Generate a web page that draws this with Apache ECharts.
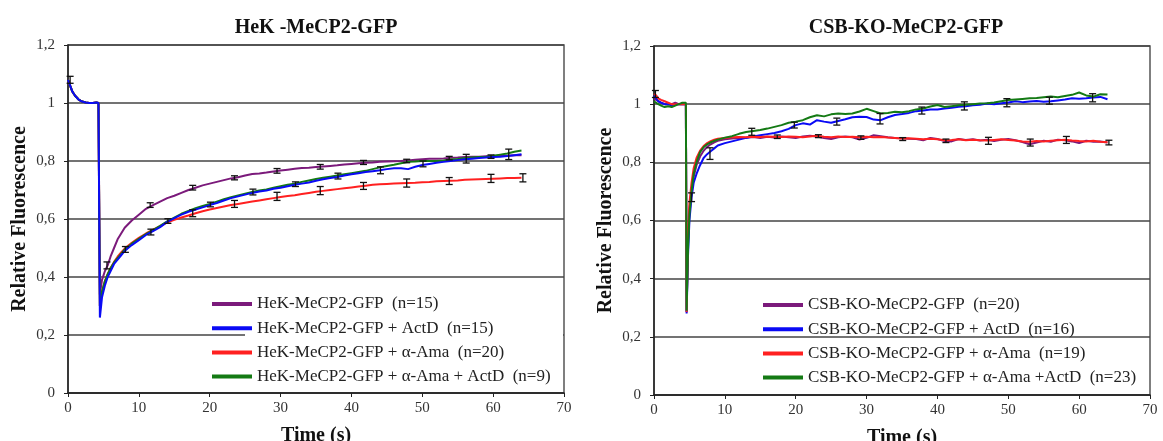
<!DOCTYPE html>
<html><head><meta charset="utf-8">
<script src="https://cdn.jsdelivr.net/npm/echarts@6/dist/echarts.min.js"></script>
<style>html,body{margin:0;padding:0;background:#fff}#c{width:1163px;height:441px}</style>
</head><body><div id="c"></div>
<script>
// ---------- data ----------
const titles = ['HeK -MeCP2-GFP', 'CSB-KO-MeCP2-GFP'];
const xName = 'Time (s)';
const yName = 'Relative Fluorescence';
const colors = ['#7B1A7B', '#0A0AF5', '#FF2020', '#147A14'];

const namesL = ['HeK-MeCP2-GFP  (n=15)', 'HeK-MeCP2-GFP + ActD  (n=15)', 'HeK-MeCP2-GFP + \u03B1-Ama  (n=20)', 'HeK-MeCP2-GFP + \u03B1-Ama + ActD  (n=9)'];
const namesR = ['CSB-KO-MeCP2-GFP  (n=20)', 'CSB-KO-MeCP2-GFP + ActD  (n=16)', 'CSB-KO-MeCP2-GFP + \u03B1-Ama  (n=19)', 'CSB-KO-MeCP2-GFP + \u03B1-Ama +ActD  (n=23)'];

const timeL = [0,0.3,0.6,1,1.5,2,2.5,3,3.5,4,4.3,4.5,4.8,5.2,5.6,6,6.5,7,7.5,8,
  9,10,11,12,13,14,15,16,17,18,19,20,21,22,23,24,25,26,27,28,29,30,31,32,33,34,35,36,37,38,
  39,40,41,42,43,44,45,46,47,48,49,50,51,52,53,54,55,56,57,58,59,60,61,62,63,64];

const hekGFP = [1.08,1.06,1.04,1.025,1.012,1.005,1.002,1.0,1.0,1.002,1.0,
  0.34,0.39,0.42,0.44,0.47,0.50,0.53,0.55,0.57,
  0.595,0.615,0.635,0.648,0.66,0.672,0.68,0.69,0.70,0.708,
  0.716,0.722,0.728,0.734,0.740,0.744,0.75,0.755,0.757,0.760,
  0.764,0.767,0.770,0.773,0.776,0.777,0.779,0.781,0.783,0.785,
  0.788,0.790,0.792,0.794,0.795,0.797,0.798,0.799,0.800,0.802,
  0.804,0.806,0.808,0.808,0.809,0.811,0.812,0.814,0.815,0.815,
  0.816,0.817,0.818,0.818,0.82,0.82];
const hekActD = [1.08,1.06,1.04,1.025,1.012,1.005,1.002,1.0,1.0,1.002,1.0,
  0.26,0.33,0.37,0.40,0.42,0.445,0.46,0.475,0.49,
  0.51,0.527,0.545,0.558,0.572,0.59,0.603,0.615,0.625,0.633,
  0.64,0.648,0.655,0.664,0.672,0.678,0.684,0.69,0.695,0.698,
  0.704,0.708,0.713,0.718,0.722,0.726,0.732,0.737,0.741,0.745,
  0.750,0.754,0.758,0.762,0.765,0.768,0.772,0.775,0.775,0.772,
  0.78,0.786,0.79,0.794,0.797,0.80,0.803,0.806,0.808,0.81,
  0.812,0.814,0.815,0.817,0.82,0.823];
const hekAma = [1.08,1.06,1.04,1.025,1.012,1.005,1.002,1.0,1.0,1.002,1.0,
  0.30,0.35,0.385,0.41,0.43,0.452,0.47,0.485,0.498,
  0.518,0.535,0.55,0.563,0.575,0.588,0.597,0.605,0.612,0.62,
  0.627,0.633,0.638,0.643,0.648,0.652,0.656,0.66,0.664,0.668,
  0.672,0.676,0.679,0.682,0.686,0.69,0.694,0.697,0.70,0.703,
  0.706,0.709,0.712,0.715,0.718,0.72,0.721,0.722,0.723,0.724,
  0.725,0.727,0.728,0.73,0.731,0.732,0.733,0.735,0.736,0.737,
  0.738,0.739,0.74,0.741,0.741,0.742];
const hekAmaActD = [1.08,1.06,1.04,1.025,1.012,1.005,1.002,1.0,1.0,1.002,1.0,
  0.30,0.35,0.385,0.41,0.43,0.45,0.465,0.48,0.495,
  0.515,0.532,0.548,0.562,0.576,0.592,0.605,0.618,0.628,0.637,
  0.645,0.652,0.66,0.668,0.675,0.681,0.687,0.693,0.698,0.702,
  0.708,0.713,0.718,0.722,0.728,0.733,0.738,0.742,0.746,0.75,
  0.754,0.758,0.762,0.766,0.772,0.778,0.783,0.787,0.792,0.797,
  0.798,0.80,0.80,0.80,0.802,0.805,0.807,0.81,0.812,0.814,
  0.815,0.818,0.822,0.826,0.832,0.836];

const timeR = [0,0.3,0.6,1,1.5,2,2.5,3,3.5,4,4.5,4.6,4.8,5,5.3,5.6,6,6.5,7,7.5,8,8.5,9,
  10,11,12,13,14,15,16,17,18,19,20,21,22,23,24,25,26,27,28,29,30,31,32,33,34,35,36,37,38,39,
  40,41,42,43,44,45,46,47,48,49,50,51,52,53,54,55,56,57,58,59,60,61,62,63,64];

const csbGFP = [1.02,1.015,1.01,1.005,1.0,1.0,1.0,1.005,1.0,1.0,1.0,
  0.285,0.52,0.64,0.70,0.75,0.79,0.82,0.84,0.853,0.862,0.869,0.874,
  0.879,0.882,0.884,0.885,0.887,0.884,0.888,0.885,0.889,0.886,
  0.884,0.889,0.891,0.889,0.884,0.88,0.886,0.889,0.886,0.878,
  0.884,0.893,0.89,0.886,0.884,0.883,0.881,0.88,0.876,0.884,
  0.88,0.873,0.872,0.88,0.877,0.879,0.875,0.878,0.873,0.878,
  0.88,0.876,0.87,0.862,0.868,0.874,0.871,0.878,0.876,0.872,
  0.866,0.874,0.871,0.872,0.868];
const csbActD = [1.03,1.02,1.01,1.005,1.0,1.0,0.995,1.0,1.0,1.0,1.0,
  0.28,0.48,0.60,0.68,0.73,0.76,0.79,0.815,0.828,0.838,0.848,0.858,
  0.866,0.872,0.878,0.884,0.889,0.893,0.897,0.901,0.907,0.915,
  0.928,0.934,0.93,0.945,0.94,0.936,0.942,0.948,0.955,0.957,
  0.956,0.947,0.945,0.955,0.963,0.966,0.97,0.976,0.978,0.982,
  0.982,0.985,0.988,0.991,0.993,0.996,0.998,1.002,1.0,1.003,
  1.006,1.01,1.007,1.009,1.011,1.008,1.01,1.013,1.016,1.02,
  1.019,1.02,1.023,1.025,1.017];
const csbAma = [1.035,1.03,1.02,1.015,1.01,1.005,1.0,1.0,1.0,1.0,1.0,
  0.285,0.55,0.66,0.73,0.78,0.815,0.84,0.856,0.866,0.873,0.878,0.881,
  0.884,0.886,0.887,0.886,0.888,0.887,0.889,0.888,0.887,0.889,
  0.888,0.886,0.889,0.891,0.888,0.886,0.889,0.887,0.888,0.886,
  0.888,0.886,0.887,0.885,0.884,0.882,0.883,0.881,0.879,0.881,
  0.879,0.876,0.877,0.879,0.876,0.878,0.876,0.875,0.877,0.879,
  0.877,0.875,0.872,0.871,0.873,0.872,0.874,0.876,0.878,0.875,
  0.873,0.872,0.874,0.871,0.869];
const csbAmaActD = [1.01,1.005,1.0,0.995,0.99,0.993,0.99,0.995,1.0,1.005,1.005,
  0.29,0.50,0.62,0.70,0.76,0.80,0.835,0.852,0.862,0.869,0.874,0.878,
  0.885,0.89,0.898,0.904,0.908,0.911,0.916,0.922,0.928,0.936,
  0.94,0.945,0.955,0.962,0.958,0.965,0.968,0.966,0.968,0.975,
  0.984,0.976,0.968,0.97,0.974,0.972,0.976,0.982,0.985,0.992,
  0.997,0.99,0.993,0.996,0.998,1.0,1.002,1.003,1.006,1.01,
  1.014,1.016,1.018,1.02,1.021,1.024,1.026,1.024,1.028,1.032,
  1.04,1.03,1.026,1.034,1.033];

// error bars: [time, mean, half-length]
const errL = [[0.3,1.08,0.012],
  [5.5,0.44,0.012],[11.6,0.648,0.008],[17.6,0.708,0.008],[23.5,0.742,0.007],[29.5,0.766,0.008],[35.6,0.780,0.008],[41.7,0.795,0.007],[47.8,0.80,0.006],[53.8,0.81,0.006],[59.7,0.815,0.006],
  [8.1,0.495,0.01],[11.7,0.555,0.01],[14.1,0.593,0.008],[20.1,0.65,0.008],[26.1,0.693,0.01],[32.1,0.72,0.008],[38.1,0.748,0.01],[44.1,0.768,0.012],[50.1,0.79,0.01],[56.2,0.808,0.015],[62.2,0.823,0.018],
  [17.6,0.62,0.012],[23.5,0.652,0.012],[29.5,0.678,0.014],[35.6,0.698,0.014],[41.7,0.714,0.012],[47.8,0.724,0.014],[53.8,0.731,0.012],[59.7,0.74,0.014],[64.2,0.742,0.014]];
const errR = [[0.2,1.035,0.012],[5.3,0.68,0.015],[7.9,0.83,0.02],[13.8,0.905,0.012],[17.4,0.888,0.006],[19.8,0.928,0.01],
  [23.2,0.89,0.005],[25.8,0.94,0.012],[29.2,0.885,0.006],[31.9,0.95,0.018],[35.1,0.88,0.005],[37.8,0.978,0.012],
  [41.2,0.874,0.006],[43.8,0.994,0.014],[47.2,0.874,0.012],[49.8,1.005,0.014],[53.1,0.868,0.012],[55.8,1.012,0.012],
  [58.2,0.877,0.012],[61.9,1.022,0.014],[64.2,0.868,0.008]];

const xTicks = {min: 0, max: 70, interval: 10};
const yTicks = {min: 0, max: 1.2, interval: 0.2};

// ---------- chart ----------
const FONT = 'Liberation Serif, Times New Roman, serif';
const chart = echarts.init(document.getElementById('c'), null, {renderer: 'canvas'});
const pair = (t, v) => t.map((x, i) => [x, v[i]]);
const yFmt = v => { const s = (+v).toFixed(1); return s.endsWith('.0') ? s.slice(0, -2) : s.replace('.', ','); };

function lineSeries(name, t, v, color, idx) {
  return {type: 'line', name, data: pair(t, v), xAxisIndex: idx, yAxisIndex: idx,
    showSymbol: false, symbol: 'none', lineStyle: {width: 2, color}, itemStyle: {color}, z: 2, animation: false};
}
function errSeries(data, idx) {
  return {type: 'custom', xAxisIndex: idx, yAxisIndex: idx, data, z: 5, animation: false,
    encode: {x: 0, y: 1}, silent: true,
    renderItem: (params, api) => {
      const x = api.value(0), y = api.value(1), e = api.value(2);
      const a = api.coord([x, y + e]), b = api.coord([x, y - e]);
      const w = 3.5, st = {stroke: '#111', lineWidth: 1.3};
      return {type: 'group', children: [
        {type: 'line', shape: {x1: a[0], y1: a[1], x2: b[0], y2: b[1]}, style: st},
        {type: 'line', shape: {x1: a[0] - w, y1: a[1], x2: a[0] + w, y2: a[1]}, style: st},
        {type: 'line', shape: {x1: b[0] - w, y1: b[1], x2: b[0] + w, y2: b[1]}, style: st}]};
    }};
}
function xAx(idx) {
  return {type: 'value', gridIndex: idx, min: xTicks.min, max: xTicks.max, interval: xTicks.interval,
    name: xName, nameLocation: 'middle', nameGap: 33,
    nameTextStyle: {fontFamily: FONT, fontWeight: 'bold', fontSize: 20, color: '#111'},
    axisLine: {onZero: false, lineStyle: {color: '#222', width: 1.5}},
    axisTick: {show: true, inside: false, length: 4, lineStyle: {color: '#222'}},
    axisLabel: {fontFamily: FONT, fontSize: 15, color: '#333', margin: 8},
    splitLine: {show: false}};
}
function yAx(idx) {
  return {type: 'value', gridIndex: idx, min: yTicks.min, max: yTicks.max, interval: yTicks.interval,
    name: yName, nameLocation: 'middle', nameGap: 38, nameRotate: 90,
    nameTextStyle: {fontFamily: FONT, fontWeight: 'bold', fontSize: 20, color: '#111'},
    axisLine: {lineStyle: {color: '#222', width: 1.5}},
    axisTick: {show: true, inside: false, length: 4, lineStyle: {color: '#222'}},
    axisLabel: {fontFamily: FONT, fontSize: 15, color: '#333', margin: 13, formatter: yFmt},
    splitLine: {show: true, lineStyle: {color: '#444', width: 1.5}}};
}
function legend(names, left, top) {
  return {data: names, orient: 'vertical', left, top, icon: 'rect', itemWidth: 40, itemHeight: 4,
    itemGap: 4.2, padding: 0, selectedMode: false,
    textStyle: {fontFamily: FONT, fontSize: 17, color: '#222', lineHeight: 20}};
}

const option = {
  backgroundColor: '#fff',
  animation: false,
  title: [
    {text: titles[0], left: 311, top: 13, textAlign: 'center',
      textStyle: {fontFamily: FONT, fontWeight: 'bold', fontSize: 20, color: '#111'}},
    {text: titles[1], left: 901, top: 13, textAlign: 'center',
      textStyle: {fontFamily: FONT, fontWeight: 'bold', fontSize: 20, color: '#111'}}
  ],
  grid: [
    {left: 68, top: 45, width: 496, height: 348, show: true, borderColor: '#555', borderWidth: 1.5,
      backgroundColor: 'transparent', containLabel: false, outerBoundsMode: 'none'},
    {left: 654, top: 46, width: 496, height: 349, show: true, borderColor: '#555', borderWidth: 1.5,
      backgroundColor: 'transparent', containLabel: false, outerBoundsMode: 'none'}
  ],
  xAxis: [xAx(0), xAx(1)],
  yAxis: [yAx(0), yAx(1)],
  legend: [legend(namesL, 212, 294), legend(namesR, 763, 295)],
  graphic: {elements: [
    {type: 'rect', z: 1, shape: {x: 245, y: 280, width: 318, height: 112}, style: {fill: '#fff'}}
  ]},
  series: [
    lineSeries(namesL[0], timeL, hekGFP, colors[0], 0),
    lineSeries(namesL[2], timeL, hekAma, colors[2], 0),
    lineSeries(namesL[3], timeL, hekAmaActD, colors[3], 0),
    lineSeries(namesL[1], timeL, hekActD, colors[1], 0),
    errSeries(errL, 0),
    lineSeries(namesR[0], timeR, csbGFP, colors[0], 1),
    lineSeries(namesR[1], timeR, csbActD, colors[1], 1),
    lineSeries(namesR[2], timeR, csbAma, colors[2], 1),
    lineSeries(namesR[3], timeR, csbAmaActD, colors[3], 1),
    errSeries(errR, 1)
  ]
};
chart.setOption(option);
</script></body></html>
